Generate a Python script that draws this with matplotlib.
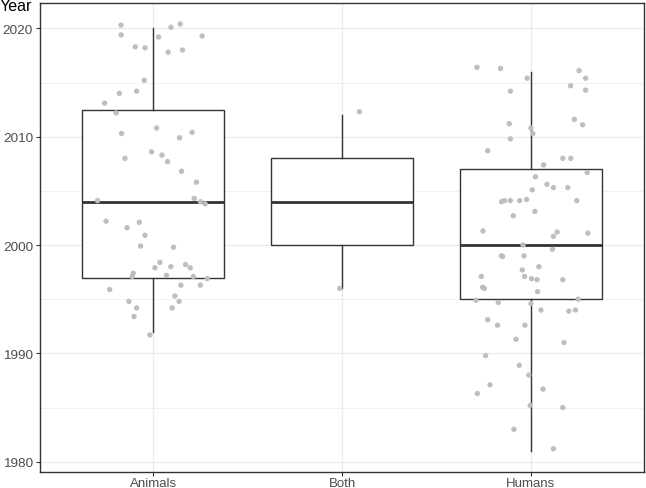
import matplotlib
matplotlib.use("Agg")
import matplotlib.pyplot as plt
from matplotlib.ticker import MultipleLocator

plt.rcParams['font.family'] = ['Liberation Sans', 'DejaVu Sans']

categories = ["Animals", "Both", "Humans"]

# Box statistics (years): lower whisker, Q1, median, Q3, upper whisker
whisker_low = [1992.0, 1996.0, 1981.0]
q1 = [1997.0, 2000.0, 1995.0]
median = [2004.0, 2004.0, 2000.0]
q3 = [2012.5, 2008.0, 2007.0]
whisker_high = [2020.0, 2012.0, 2016.0]

# Jittered observations: year and horizontal jitter (category units)
animals_year = [2020.3, 2019.4, 2020.1, 2020.4, 2019.2, 2019.3, 2018.3, 2018.2, 2017.8, 2018.0,
                2015.2, 2014.0, 2014.2, 2013.1, 2012.2, 2010.3, 2010.8, 2009.9, 2010.4, 2008.0,
                2008.6, 2008.3, 2007.7, 2006.8, 2005.8, 2004.1, 2004.3, 2004.0, 2003.8, 2002.2,
                2001.6, 2002.1, 2000.9, 1999.9, 1999.8, 1998.4, 1997.9, 1998.0, 1998.2, 1997.9,
                1997.4, 1997.1, 1997.2, 1997.1, 1996.9, 1996.3, 1996.3, 1995.9, 1994.8, 1995.3,
                1994.8, 1994.2, 1994.2, 1993.4, 1991.7]
animals_jitter = [-0.171, -0.170, 0.094, 0.143, 0.028, 0.259, -0.095, -0.044, 0.079, 0.155,
                  -0.048, -0.180, -0.088, -0.258, -0.196, -0.168, 0.018, 0.139, 0.206, -0.150,
                  -0.009, 0.046, 0.076, 0.150, 0.229, -0.295, 0.217, 0.250, 0.275, -0.250,
                  -0.139, -0.074, -0.044, -0.067, 0.107, 0.035, 0.009, 0.093, 0.171, 0.196,
                  -0.106, -0.111, 0.070, 0.212, 0.286, 0.146, 0.249, -0.231, -0.129, 0.115,
                  0.137, -0.088, 0.100, -0.102, -0.018]

both_year = [2012.3, 1996.0]
both_jitter = [0.092, -0.012]

humans_year = [2016.4, 2016.3, 2015.4, 2016.1, 2015.4, 2014.2, 2014.7, 2014.3, 2011.2, 2011.6,
               2011.1, 2010.8, 2010.3, 2009.8, 2008.7, 2008.0, 2008.0, 2007.4, 2006.7, 2006.3,
               2005.6, 2005.3, 2005.3, 2005.1, 2004.0, 2004.1, 2004.1, 2004.1, 2004.2, 2004.1,
               2003.1, 2002.7, 2001.3, 2001.2, 2000.8, 2001.1, 2000.0, 1999.6, 1999.0, 1998.95,
               1999.0, 1998.0, 1997.1, 1997.7, 1997.1, 1996.9, 1996.8, 1996.8, 1996.1, 1996.0,
               1995.7, 1994.9, 1994.7, 1994.6, 1995.0, 1994.0, 1993.9, 1994.0, 1993.1, 1992.6,
               1992.6, 1991.3, 1991.0, 1989.8, 1988.9, 1988.0, 1987.1, 1986.3, 1986.7, 1985.2,
               1985.0, 1983.0, 1981.2]
humans_jitter = [-0.285, -0.160, -0.019, 0.256, 0.291, -0.108, 0.211, 0.291, -0.114, 0.231,
                 0.275, 0.001, 0.011, -0.108, -0.228, 0.170, 0.212, 0.068, 0.299, 0.025,
                 0.086, 0.120, 0.196, 0.008, -0.155, -0.139, -0.108, -0.059, -0.022, 0.244,
                 0.022, -0.093, -0.253, 0.140, 0.120, 0.302, -0.041, 0.115, -0.156, -0.149,
                 -0.036, 0.043, -0.262, -0.045, -0.033, 0.004, 0.033, 0.170, -0.255, -0.246,
                 0.036, -0.290, -0.172, 0.001, 0.251, 0.054, 0.202, 0.237, -0.228, -0.176,
                 -0.031, -0.078, 0.176, -0.239, -0.061, -0.010, -0.216, -0.283, 0.065, -0.003,
                 0.170, -0.089, 0.120]

y_major = [1980, 1990, 2000, 2010, 2020]

W, H = 646, 489
fig = plt.figure(figsize=(W / 100, H / 100), dpi=100)
left, right, top, bottom = 40, 644, 4, 472.7
ax = fig.add_axes([left / W, (H - bottom) / H, (right - left) / W, (bottom - top) / H])

border = "#333333"
grid_c = "#EBEBEB"

positions = [1, 2, 3]
stats = []
for i, name in enumerate(categories):
    stats.append(dict(label=name, med=median[i], q1=q1[i], q3=q3[i],
                      whislo=whisker_low[i], whishi=whisker_high[i], fliers=[]))

ax.bxp(stats, positions=positions, widths=0.75, showcaps=False, showfliers=False,
       patch_artist=True,
       boxprops=dict(facecolor="white", edgecolor=border, linewidth=1.0),
       whiskerprops=dict(color=border, linewidth=1.0),
       medianprops=dict(color=border, linewidth=2.0, solid_capstyle="butt"),
       zorder=2)

groups = [(animals_year, animals_jitter), (both_year, both_jitter), (humans_year, humans_jitter)]
for pos, (ys, js) in zip(positions, groups):
    xs = [pos + j for j in js]
    ax.scatter(xs, ys, s=15, color="#BEBEBE", edgecolors="none", zorder=3)

ax.set_xlim(0.4, 3.6)
ax.set_ylim(1979.08, 2022.34)
ax.set_xticks(positions)
ax.set_xticklabels(categories)
ax.set_yticks(y_major)
ax.yaxis.set_minor_locator(MultipleLocator(5))

ax.grid(True, which="major", color=grid_c, linewidth=1.0, zorder=0)
ax.grid(True, which="minor", axis="y", color=grid_c, linewidth=0.5, zorder=0)
ax.set_axisbelow(True)

for sp in ax.spines.values():
    sp.set_color(border)
    sp.set_linewidth(1.0)

ax.tick_params(axis="both", which="major", length=3.0, width=0.8, color=border,
               labelcolor="#4D4D4D", labelsize=9.7, pad=2.0)
ax.tick_params(axis="x", which="major", pad=1.0, labelsize=9.5)
ax.tick_params(axis="y", which="minor", length=0)

fig.text(0.0, 1 - 11 / H, "Year", fontsize=11.6, color="black", va="baseline", ha="left")

fig.savefig("out.png", dpi=100)
